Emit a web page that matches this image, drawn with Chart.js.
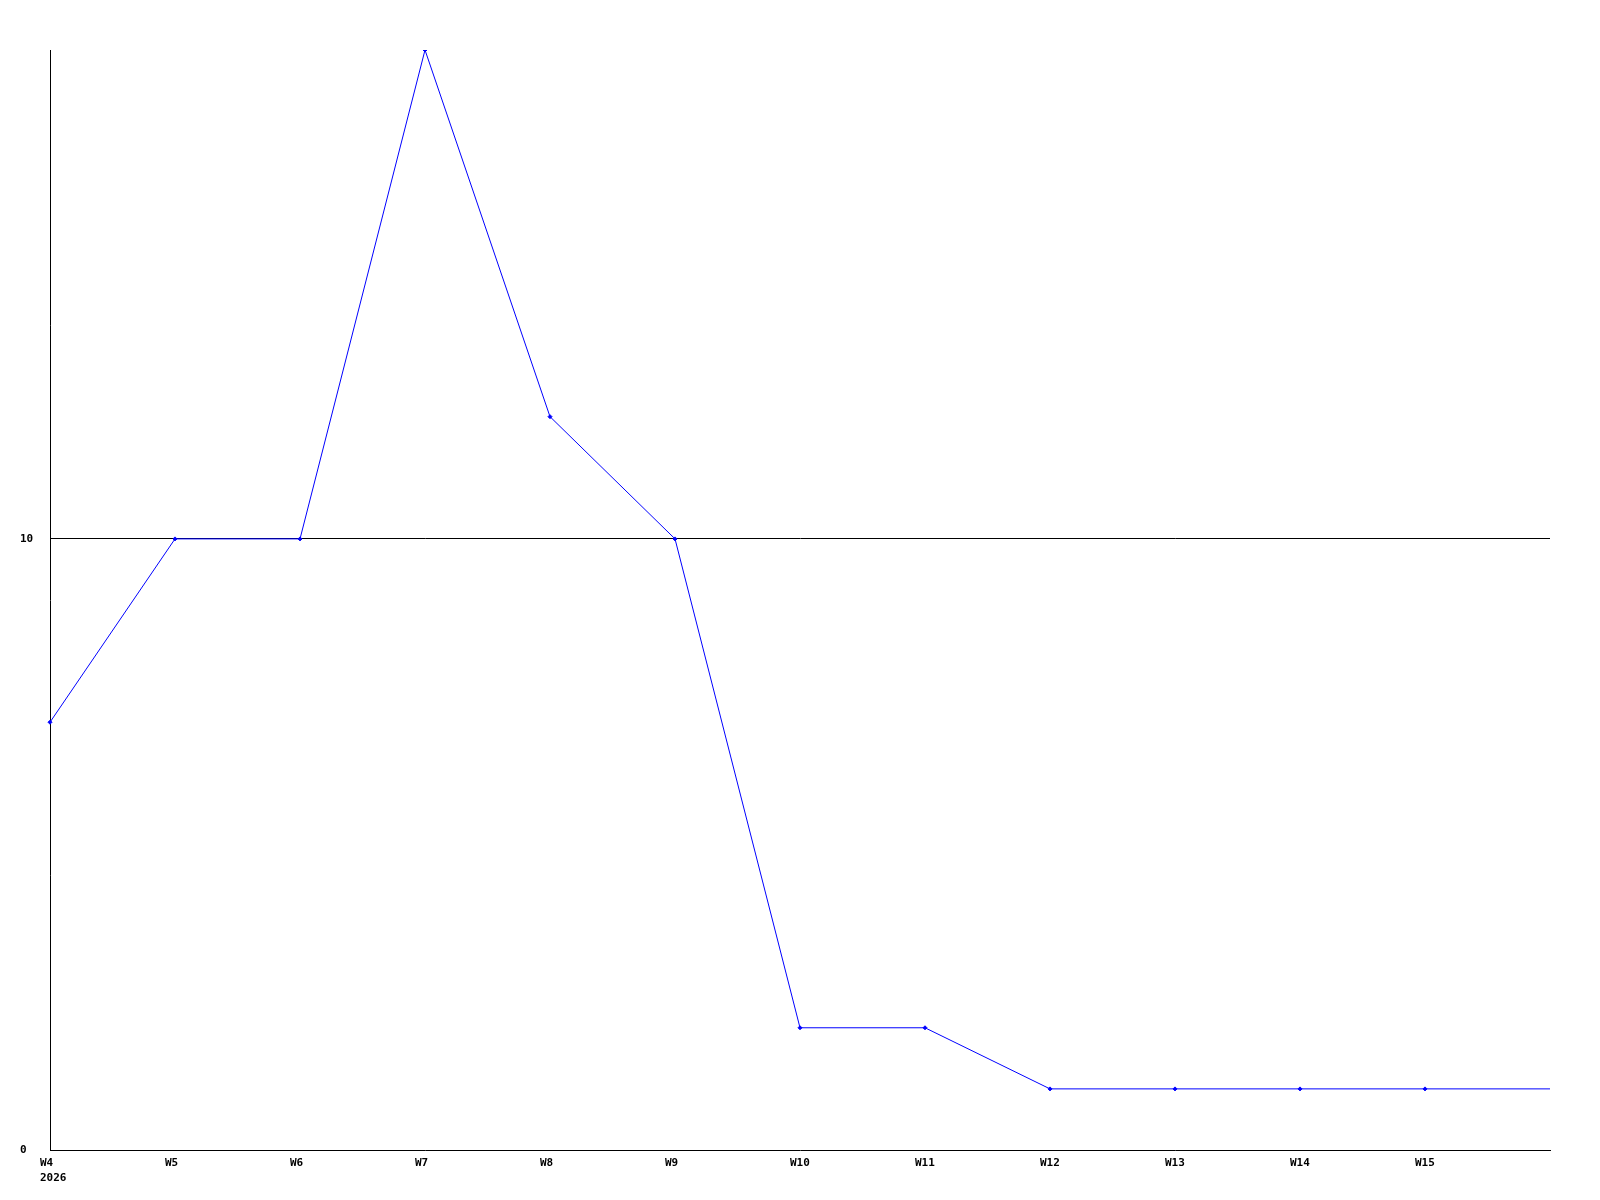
<!DOCTYPE html>
<html>
<head>
<meta charset="utf-8">
<script src="https://cdn.jsdelivr.net/npm/chart.js@4"></script>
<style>
  body { margin: 0; background: #fff; }
  #wrap { width: 1600px; height: 1200px; }
</style>
</head>
<body>
<div id="wrap"><canvas id="weekChart" width="1600" height="1200"></canvas></div>
<script>
const weeks = ["W4", "W5", "W6", "W7", "W8", "W9", "W10", "W11", "W12", "W13", "W14", "W15", "W16"];
const counts = [7, 10, 10, 18, 12, 10, 2, 2, 1, 1, 1, 1, 1];
const yearLabel = "2026";
const yTicks = [0, 10];

const ctx = document.getElementById("weekChart").getContext("2d");

// x labels in the reference start a bit left of their tick, left-aligned
const shiftLabels = {
  id: "shiftLabels",
  beforeDraw(chart) {
    const items = chart.scales.x.getLabelItems(chart.chartArea);
    items.forEach((it) => {
      it.options.textAlign = "left";
      it.options.translation[0] -= 10;
    });
  }
};

new Chart(ctx, {
  type: "line",
  data: {
    labels: weeks,
    datasets: [{
      data: counts,
      borderColor: "#0000ff",
      backgroundColor: "#0000ff",
      borderWidth: 1,
      tension: 0,
      pointStyle: "rectRot",
      pointRadius: (c) => (c.dataIndex === weeks.length - 1 ? 0 : 2),
      pointBorderWidth: 1
    }]
  },
  options: {
    responsive: false,
    animation: false,
    layout: { padding: { top: 50, right: 50, left: 20, bottom: 0 } },
    plugins: { legend: { display: false }, tooltip: { enabled: false } },
    scales: {
      x: {
        offset: false,
        grid: { display: false, drawTicks: false },
        border: { color: "#000", width: 1 },
        ticks: {
          autoSkip: false,
          maxRotation: 0,
          padding: 6,
          color: "#000",
          font: { family: "DejaVu Sans Mono", size: 11, weight: "bold", lineHeight: 1.36 },
          callback: function (value, index) {
            if (index === weeks.length - 1) return "";
            if (index === 0) return [weeks[0], yearLabel];
            return weeks[index];
          }
        },
        afterFit: (scale) => { scale.height = 50; }
      },
      y: {
        min: 0,
        max: 18,
        grid: {
          color: (c) => (c.tick && c.tick.value === 10 ? "#000" : "rgba(0,0,0,0)"),
          lineWidth: 1,
          drawTicks: false
        },
        border: { color: "#000", width: 1 },
        ticks: {
          color: "#000",
          crossAlign: "far",
          font: { family: "DejaVu Sans Mono", size: 11, weight: "bold" }
        },
        afterBuildTicks: (scale) => {
          scale.ticks = yTicks.map((v) => ({ value: v }));
        },
        afterFit: (scale) => { scale.width = 30; }
      }
    }
  },
  plugins: [shiftLabels]
});
</script>
</body>
</html>
